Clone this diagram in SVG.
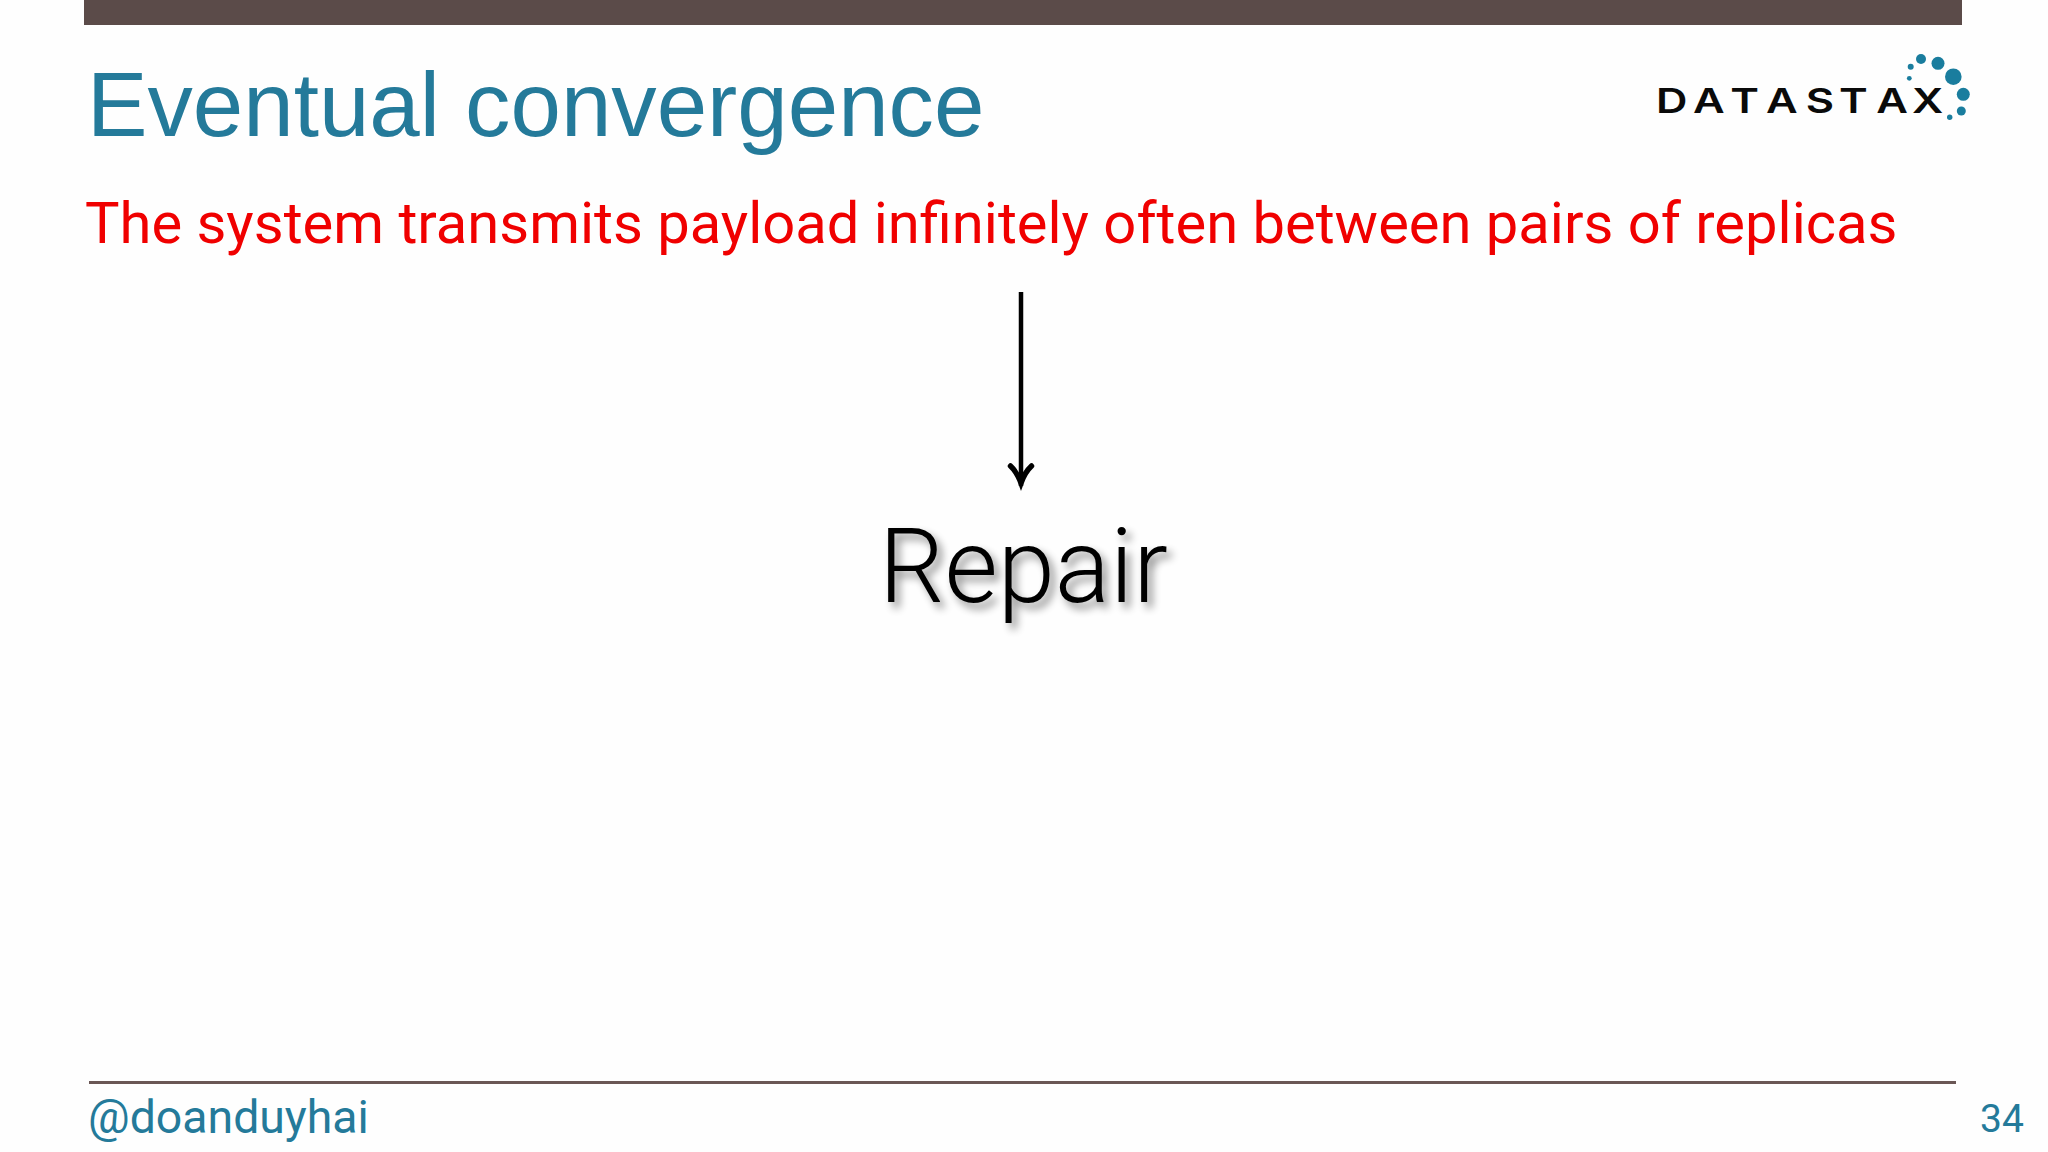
<svg xmlns="http://www.w3.org/2000/svg" width="2048" height="1152" viewBox="0 0 2048 1152">
<style>
.t{font-family:"Liberation Sans",Arial,sans-serif}
.r{font-family:Roboto,"Liberation Sans",sans-serif}
.teal{fill:#247a9a}
.dot{fill:#1a7d9e}
</style>
<defs>
<filter id="sh" x="-20%" y="-20%" width="140%" height="150%">
<feGaussianBlur in="SourceAlpha" stdDeviation="4"/>
<feOffset dx="5" dy="6"/>
<feComponentTransfer><feFuncA type="linear" slope="0.45"/></feComponentTransfer>
<feMerge><feMergeNode/><feMergeNode in="SourceGraphic"/></feMerge>
</filter>
<marker id="ah" markerUnits="userSpaceOnUse" markerWidth="36" markerHeight="36" refX="26" refY="16" orient="auto">
<path d="M6 5.500 Q12 12 23 16 Q12 20 6 26.500" fill="none" stroke="#000" stroke-width="5.500" stroke-linecap="round"/>
</marker>
</defs>
<rect width="2048" height="1152" fill="#fefefe"/>
<rect id="topbar" x="84" y="0" width="1878" height="25" fill="#5b4b49"/>
<text id="title" class="t teal" x="87" y="136" font-size="90.700">Eventual convergence</text>
<g id="logo">
<text font-family="Inter, 'Liberation Sans', sans-serif" font-weight="600" font-size="34" fill="#0a0a0a" transform="translate(1656 113) scale(1.28 1)" x="0 29 58 86 117 143 172 200" y="0">DATASTAX</text>
<circle class="dot" cx="1921" cy="59" r="5"/>
<circle class="dot" cx="1938" cy="63.3" r="6.5"/>
<circle class="dot" cx="1953.3" cy="76.7" r="8.3"/>
<circle class="dot" cx="1963.3" cy="94.3" r="6.5"/>
<circle class="dot" cx="1961.3" cy="111" r="4.5"/>
<circle class="dot" cx="1949.7" cy="117.3" r="2.7"/>
<circle class="dot" cx="1910.7" cy="66.7" r="3"/>
<circle class="dot" cx="1909.3" cy="78.3" r="2.4"/>
</g>
<text id="subtitle" class="r" x="85" y="242.500" font-size="57.9" fill="#f00000">The system transmits payload infinitely often between pairs of replicas</text>
<g id="connectors"><line x1="1021" y1="292" x2="1021" y2="486" stroke="#000" stroke-width="4.500" marker-end="url(#ah)"/></g>
<g id="repair"><text class="r" x="879" y="602" font-size="103" font-weight="300" fill="#000" filter="url(#sh)">Repair</text></g>
<rect id="footerline" x="89" y="1081" width="1867" height="3" fill="#6a5755"/>
<text id="handle" class="r teal" x="88" y="1133" font-size="46.400">@doanduyhai</text>
<text id="page" class="r teal" x="1980" y="1132" font-size="39">34</text>
</svg>
